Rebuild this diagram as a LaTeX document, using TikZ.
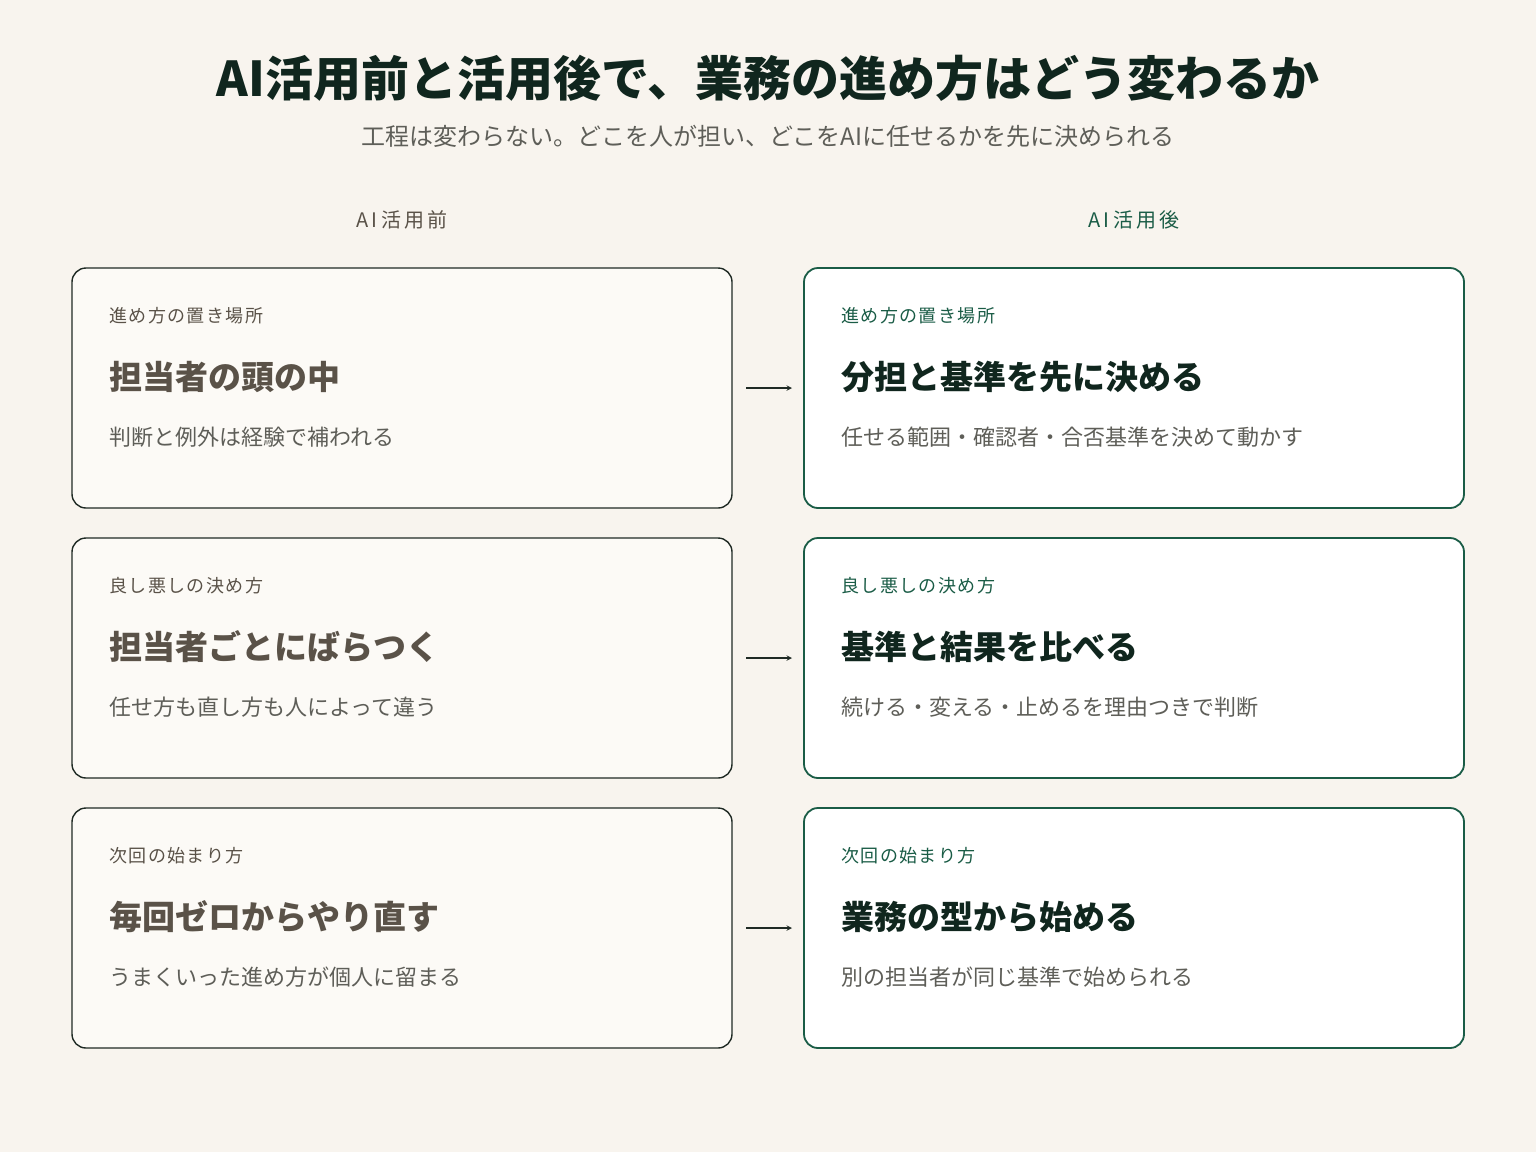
\documentclass[tikz,border=0pt]{standalone}
\usepackage{fontspec}
\setmainfont{Noto Sans CJK JP}
\definecolor{bg}{HTML}{F8F4EE}
\definecolor{lfill}{HTML}{FCFAF6}
\definecolor{lborder}{HTML}{1F2A24}
\definecolor{gr}{HTML}{1A5C46}
\definecolor{dark}{HTML}{10261E}
\definecolor{brown}{HTML}{5A5248}
\definecolor{sub}{HTML}{5E5E58}
\begin{document}
\begin{tikzpicture}[x=1pt,y=-1pt,
 lbox/.style={draw=lborder,fill=lfill,line width=1.4pt,rounded corners=14pt},
 rbox/.style={draw=gr,fill=white,line width=1.8pt,rounded corners=14pt},
 lab/.style={anchor=west,inner sep=0,font=\fontsize{18}{20}\selectfont},
 head/.style={anchor=west,inner sep=0,font=\fontsize{33}{36}\selectfont\bfseries},
 desc/.style={anchor=west,inner sep=0,font=\fontsize{22}{24}\selectfont,text=sub},
 arr/.style={->,>=stealth,line width=1.4pt,draw=lborder}]
\fill[bg] (0,0) rectangle (1536,1152);
\node[inner sep=0,text=dark,font=\fontsize{48}{52}\selectfont\bfseries] (title) at (768,78) {AI活用前と活用後で、業務の進め方はどう変わるか};
\node[inner sep=0,text=sub,font=\fontsize{24}{28}\selectfont] (subt) at (768,136) {工程は変わらない。どこを人が担い、どこをAIに任せるかを先に決められる};
\node[inner sep=0,text=brown,font=\fontsize{20}{22}\selectfont] (hl) at (402,220) {A\,I\,活\,用\,前};
\node[inner sep=0,text=gr,font=\fontsize{20}{22}\selectfont] (hr) at (1134,220) {A\,I\,活\,用\,後};
\foreach \i/\y/\la/\ha/\da/\hb/\db in {
 1/268/進め方の置き場所/担当者の頭の中/判断と例外は経験で補われる/分担と基準を先に決める/任せる範囲・確認者・合否基準を決めて動かす,
 2/538/良し悪しの決め方/担当者ごとにばらつく/任せ方も直し方も人によって違う/基準と結果を比べる/続ける・変える・止めるを理由つきで判断,
 3/808/次回の始まり方/毎回ゼロからやり直す/うまくいった進め方が個人に留まる/業務の型から始める/別の担当者が同じ基準で始められる}{
 \draw[lbox] (72,\y) rectangle (732,\y+240);
 \node[coordinate] (L\i) at (732,\y+120) {};
 \draw[rbox] (804,\y) rectangle (1464,\y+240);
 \node[coordinate] (R\i) at (804,\y+120) {};
 \node[lab,text=brown] (la\i) at (109,\y+48) {\addfontfeature{LetterSpace=8}\la};
 \node[head,text=brown] (ha\i) at (109,\y+109) {\ha};
 \node[desc] (da\i) at (109,\y+169) {\da};
 \node[lab,text=gr] (lb\i) at (841,\y+48) {\addfontfeature{LetterSpace=8}\la};
 \node[head,text=dark] (hb\i) at (841,\y+109) {\hb};
 \node[desc] (db\i) at (841,\y+169) {\db};
 \draw[arr] ([xshift=14pt]L\i) -- ([xshift=-12pt]R\i);
}
\end{tikzpicture}
\end{document}
